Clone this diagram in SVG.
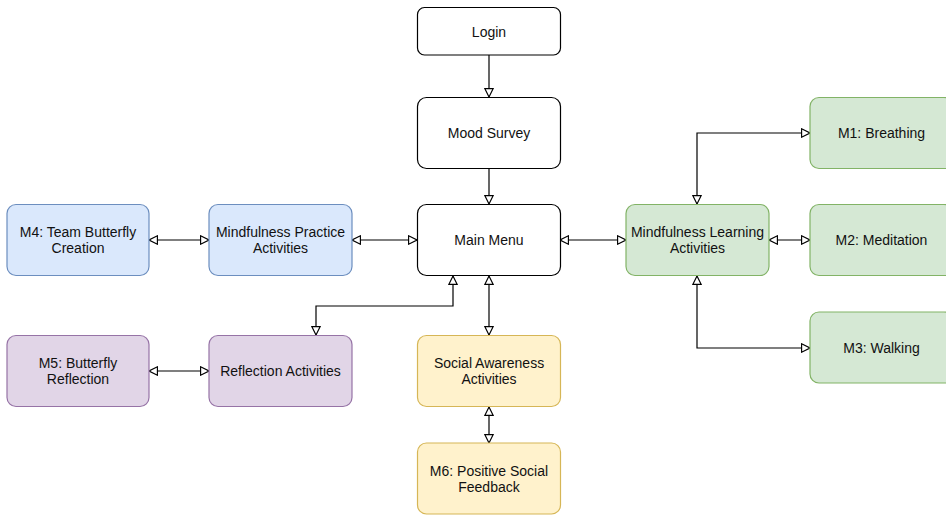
<svg xmlns="http://www.w3.org/2000/svg" width="946" height="517" viewBox="0 0 946 517">
<style>
.n{stroke-width:1.2}
.w{fill:#ffffff;stroke:#000000}
.b{fill:#dae8fc;stroke:#6c8ebf}
.g{fill:#d5e8d4;stroke:#82b366}
.p{fill:#e1d5e7;stroke:#9673a6}
.y{fill:#fff2cc;stroke:#d6b656}
text{font-family:"Liberation Sans",Arial,Helvetica,sans-serif;font-size:14px;fill:#111111;text-anchor:middle;dominant-baseline:central}
.c path{fill:none;stroke:#000000;stroke-width:1.2}
.one{marker-end:url(#ah)}
.two{marker-start:url(#ah);marker-end:url(#ah)}
</style>
<defs>
<marker id="ah" viewBox="0 0 10 10" refX="9.5" refY="5" markerWidth="10.5" markerHeight="10.5" markerUnits="userSpaceOnUse" orient="auto-start-reverse">
<path d="M1.5,1 L9.5,5 L1.5,9 z" fill="#ffffff" stroke="#000000" stroke-width="1.1"/>
</marker>
</defs>
<rect width="946" height="517" fill="#ffffff"/>
<g class="c" id="connectors">
<path class="one" d="M489,55 V97"/>
<path class="one" d="M489,169 V204"/>
<path class="two" d="M352,240 H417"/>
<path class="two" d="M149,240 H209"/>
<path class="two" d="M149,371 H209"/>
<path class="two" d="M560,240 H626"/>
<path class="two" d="M769,240 H810"/>
<path class="two" d="M697,204 V133 H810"/>
<path class="two" d="M697,276 V348 H810"/>
<path class="two" d="M453,276 V306 H316 V335"/>
<path class="two" d="M489,276 V335"/>
<path class="two" d="M489,407 V443"/>
</g>
<g id="login"><rect class="n w" x="417.5" y="7.5" width="143" height="47.5" rx="7"/><text x="489" y="31.5">Login</text></g>
<g id="mood"><rect class="n w" x="417.5" y="97.5" width="143" height="71" rx="9"/><text x="489" y="133">Mood Survey</text></g>
<g id="main"><rect class="n w" x="417.5" y="204.5" width="143" height="71" rx="9"/><text x="489" y="240">Main Menu</text></g>
<g id="m4"><rect class="n b" x="7" y="204.5" width="142" height="71" rx="9"/><text x="78" y="232">M4: Team Butterfly</text><text x="78" y="248">Creation</text></g>
<g id="practice"><rect class="n b" x="209" y="204.5" width="143" height="71" rx="9"/><text x="280.5" y="232">Mindfulness Practice</text><text x="280.5" y="248">Activities</text></g>
<g id="m5"><rect class="n p" x="7" y="335.5" width="142" height="71" rx="9"/><text x="78" y="363">M5: Butterfly</text><text x="78" y="379">Reflection</text></g>
<g id="reflection"><rect class="n p" x="209" y="335.5" width="143" height="71" rx="9"/><text x="280.5" y="371">Reflection Activities</text></g>
<g id="social"><rect class="n y" x="417.5" y="335.5" width="143" height="71" rx="9"/><text x="489" y="363">Social Awareness</text><text x="489" y="379">Activities</text></g>
<g id="m6"><rect class="n y" x="417.5" y="443" width="143" height="71" rx="9"/><text x="489" y="471">M6: Positive Social</text><text x="489" y="487">Feedback</text></g>
<g id="learning"><rect class="n g" x="626" y="204.5" width="143" height="71" rx="9"/><text x="697.5" y="232">Mindfulness Learning</text><text x="697.5" y="248">Activities</text></g>
<g id="m1"><rect class="n g" x="810" y="97.5" width="143" height="71" rx="9"/><text x="881.5" y="133">M1: Breathing</text></g>
<g id="m2"><rect class="n g" x="810" y="204.5" width="143" height="71" rx="9"/><text x="881.5" y="240">M2: Meditation</text></g>
<g id="m3"><rect class="n g" x="810" y="312" width="143" height="71" rx="9"/><text x="881.5" y="347.5">M3: Walking</text></g>
</svg>
